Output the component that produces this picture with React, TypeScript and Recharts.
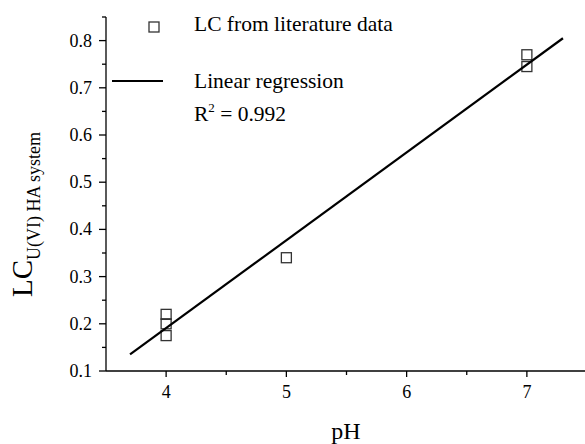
import { Scatter, ScatterChart, XAxis, YAxis } from 'recharts'

// literature points (pH, LC)
const phValues = [4, 4, 4, 5, 7, 7]
const lcValues = [0.22, 0.2, 0.175, 0.34, 0.77, 0.745]

// fitted line end points
const fitPh = [3.7, 7.3]
const fitLc = [0.135, 0.805]

const xTicks = [4, 4.5, 5, 5.5, 6, 6.5, 7, 7.5]
const xLabels = [4, 5, 6, 7]
const yTicks = [0.1, 0.15, 0.2, 0.25, 0.3, 0.35, 0.4, 0.45, 0.5, 0.55, 0.6, 0.65, 0.7, 0.75, 0.8, 0.85]
const yLabels = [0.1, 0.2, 0.3, 0.4, 0.5, 0.6, 0.7, 0.8]

const points = phValues.map((ph, i) => ({ ph, lc: lcValues[i] }))
const fit = fitPh.map((ph, i) => ({ ph, lc: fitLc[i] }))

const FONT = '"Liberation Serif", "Times New Roman", serif'

const isMajor = (list: number[], v: number) => list.some((m) => Math.abs(m - v) < 1e-6)

function XTick({ x, y, payload }: any) {
  const major = isMajor(xLabels, payload.value)
  return (
    <g>
      <line x1={x} x2={x} y1={y} y2={y + (major ? 6 : 4)} stroke="#000" strokeWidth={1.3} />
      {major && (
        <text x={x} y={y + 27} textAnchor="middle" fontSize={18} fontFamily={FONT} fill="#000">
          {payload.value}
        </text>
      )}
    </g>
  )
}

function YTick({ x, y, payload }: any) {
  const major = isMajor(yLabels, payload.value)
  return (
    <g>
      <line x1={x} x2={x - (major ? 7 : 4)} y1={y} y2={y} stroke="#000" strokeWidth={1.3} />
      {major && (
        <text x={x - 14} y={y + 6} textAnchor="end" fontSize={18} fontFamily={FONT} fill="#000">
          {payload.value.toFixed(1)}
        </text>
      )}
    </g>
  )
}

const square = ({ cx, cy }: any) => (
  <rect x={cx - 5} y={cy - 5} width={10} height={10} fill="none" stroke="#333" strokeWidth={1.3} />
)

export default function App() {
  return (
    <div style={{ position: 'absolute', left: 0, top: 0, width: 585, height: 444, overflow: 'hidden', background: '#fff' }}>
      <ScatterChart width={590} height={444} margin={{ top: 17, right: 3, bottom: 0, left: 0 }}>
        <XAxis
          type="number"
          dataKey="ph"
          domain={[3.5, 7.5]}
          ticks={xTicks}
          allowDataOverflow
          height={73}
          tickLine={false}
          tickSize={0}
          tickMargin={0}
          axisLine={{ stroke: '#000', strokeWidth: 1.3 }}
          tick={<XTick />}
          interval={0}
        />
        <YAxis
          type="number"
          dataKey="lc"
          domain={[0.1, 0.85]}
          ticks={yTicks}
          allowDataOverflow
          width={106}
          tickLine={false}
          tickSize={0}
          tickMargin={0}
          axisLine={{ stroke: '#000', strokeWidth: 1.3 }}
          tick={<YTick />}
          interval={0}
        />
        <Scatter data={points} shape={square} isAnimationActive={false} />
        <Scatter
          data={fit}
          line={{ stroke: '#000', strokeWidth: 2.2 }}
          shape={() => <g />}
          isAnimationActive={false}
        />
      </ScatterChart>
      <svg width={585} height={444} style={{ position: 'absolute', left: 0, top: 0, pointerEvents: 'none' }}>
        <g fontFamily={FONT} fill="#000">
          <rect x={149} y={22} width={10} height={10} fill="none" stroke="#333" strokeWidth={1.3} />
          <text x={194} y={31} fontSize={21.5}>LC from literature data</text>
          <line x1={112} x2={163} y1={81} y2={81} stroke="#000" strokeWidth={2.2} />
          <text x={194} y={88} fontSize={21.5}>Linear regression</text>
          <text x={194} y={121} fontSize={21.5}>
            R<tspan fontSize={13} dy={-9}>2</tspan>
            <tspan dy={9}> = 0.992</tspan>
          </text>
          <text x={346} y={439} fontSize={24} textAnchor="middle">pH</text>
          <text transform="translate(32 297) rotate(-90)" fontSize={29}>
            LC<tspan fontSize={18} dy={8}>U(VI) HA system</tspan>
          </text>
        </g>
      </svg>
    </div>
  )
}
